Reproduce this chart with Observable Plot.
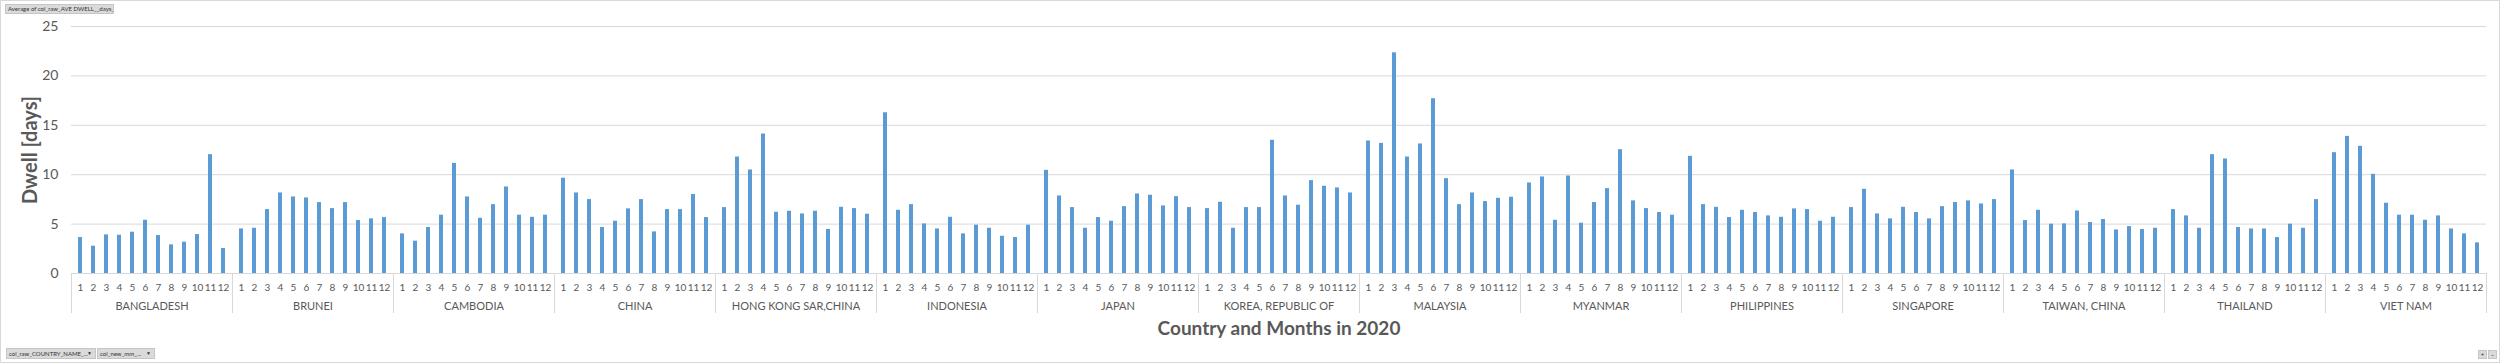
<!DOCTYPE html>
<html>
<head>
<meta charset="utf-8">
<script src="https://cdn.jsdelivr.net/npm/d3@7"></script>
<script src="https://cdn.jsdelivr.net/npm/@observablehq/plot@0.6"></script>
<style>
  html, body { margin: 0; padding: 0; background: #fff; }
  #wrap { position: relative; width: 2500px; height: 363px; font-family: Lato, "Open Sans", sans-serif; }
  #frame { position: absolute; left: 0; top: 0; width: 2498px; height: 361px; border: 1px solid #d9d9d9; pointer-events: none; }
  .btn { position: absolute; background: #dadada; border: 1px solid #c6c6c6; box-sizing: border-box;
         font-family: Lato, sans-serif; font-size: 6px; line-height: 8px; color: #333; white-space: nowrap;
         padding: 0 2px; overflow: hidden; }
  .btn .arr { position: absolute; right: 3px; top: 0; font-size: 5px; }
</style>
</head>
<body>
<div id="wrap">
  <div id="chart"></div>
  <div class="btn" style="left:5px;top:4px;width:109px;height:10px;">Average of col_raw_AVE DWELL__days_</div>
  <div class="btn" style="left:6px;top:348px;width:90px;height:11px;line-height:9px;">col_raw_COUNTRY_NAME_...<span class="arr">▼</span></div>
  <div class="btn" style="left:97px;top:348px;width:58px;height:11px;line-height:9px;">col_new_mm_...<span class="arr">▼</span></div>
  <div class="btn" style="left:2478px;top:350px;width:9px;height:9px;line-height:7px;padding:0;text-align:center;">+</div>
  <div class="btn" style="left:2488px;top:350px;width:9px;height:9px;line-height:7px;padding:0;text-align:center;">−</div>
  <div id="frame"></div>
</div>
<script>
const countries = ["BANGLADESH","BRUNEI","CAMBODIA","CHINA","HONG KONG SAR,CHINA","INDONESIA","JAPAN","KOREA, REPUBLIC OF","MALAYSIA","MYANMAR","PHILIPPINES","SINGAPORE","TAIWAN, CHINA","THAILAND","VIET NAM"];
const months = ["1","2","3","4","5","6","7","8","9","10","11","12"];
const yTicks = [0, 5, 10, 15, 20, 25];
const yTitle = "Dwell [days]";
const xTitle = "Country and Months in 2020";

const bangladesh  = [3.64, 2.76, 3.91, 3.87, 4.18, 5.39, 3.84, 2.90, 3.17, 3.94, 12.03, 2.53];
const brunei      = [4.51, 4.58, 6.47, 8.15, 7.75, 7.65, 7.18, 6.57, 7.18, 5.36, 5.53, 5.66];
const cambodia    = [4.01, 3.27, 4.65, 5.90, 11.15, 7.75, 5.59, 6.97, 8.76, 5.90, 5.69, 5.90];
const china       = [9.64, 8.15, 7.48, 4.65, 5.29, 6.54, 7.48, 4.21, 6.47, 6.47, 7.99, 5.66];
const hongKong    = [6.67, 11.79, 10.48, 14.12, 6.20, 6.30, 6.03, 6.30, 4.46, 6.70, 6.57, 6.00];
const indonesia   = [16.27, 6.40, 6.97, 5.02, 4.51, 5.69, 4.01, 4.89, 4.58, 3.77, 3.64, 4.89];
const japan       = [10.44, 7.85, 6.67, 4.58, 5.66, 5.29, 6.77, 8.05, 7.92, 6.84, 7.78, 6.67];
const korea       = [6.57, 7.21, 4.58, 6.67, 6.67, 13.48, 7.85, 6.91, 9.40, 8.83, 8.66, 8.15];
const malaysia    = [13.41, 13.17, 22.34, 11.79, 13.11, 17.69, 9.60, 6.97, 8.15, 7.28, 7.61, 7.72];
const myanmar     = [9.16, 9.77, 5.39, 9.87, 5.09, 7.18, 8.59, 12.53, 7.35, 6.57, 6.17, 5.90];
const philippines = [11.86, 6.97, 6.70, 5.66, 6.40, 6.17, 5.83, 5.69, 6.54, 6.47, 5.29, 5.69];
const singapore   = [6.67, 8.52, 6.03, 5.53, 6.70, 6.17, 5.53, 6.77, 7.18, 7.35, 7.04, 7.48];
const taiwan      = [10.48, 5.36, 6.40, 4.99, 5.02, 6.33, 5.16, 5.46, 4.41, 4.75, 4.45, 4.58];
const thailand    = [6.47, 5.83, 4.58, 12.03, 11.59, 4.65, 4.51, 4.51, 3.64, 4.99, 4.58, 7.48];
const vietNam     = [12.23, 13.88, 12.87, 10.04, 7.11, 5.90, 5.90, 5.39, 5.83, 4.51, 4.01, 3.10];

const series = [bangladesh, brunei, cambodia, china, hongKong, indonesia, japan, korea, malaysia, myanmar, philippines, singapore, taiwan, thailand, vietNam];
const rows = countries.flatMap((c, i) => series[i].map((v, j) => ({country: c, month: months[j], dwell: v})));

const textColor = "#595959";
const plot = Plot.plot({
  width: 2500,
  height: 363,
  marginLeft: 64,
  marginRight: 8,
  marginTop: 26,
  marginBottom: 90,
  style: {fontFamily: "Lato, 'Open Sans', sans-serif", color: textColor, background: "transparent"},
  fx: {domain: countries, padding: 0, label: null},
  x: {domain: months, paddingInner: 0.7, paddingOuter: 0.35, label: null},
  y: {domain: [0, 25], label: null},
  marks: [
    Plot.gridY(yTicks.slice(1), {stroke: "#d9d9d9", strokeOpacity: 1, strokeWidth: 1}),
    Plot.ruleY([0], {stroke: "#d9d9d9"}),
    Plot.barY(rows, {fx: "country", x: "month", y: "dwell", fill: "#5b9bd5"}),
    Plot.axisY(yTicks, {tickSize: 0, tickPadding: 13, fontSize: 14, label: null, fill: textColor}),
    Plot.axisX({tickSize: 0, tickPadding: 10, fontSize: 10, label: null, fill: textColor}),
    Plot.axisFx({anchor: "bottom", tickSize: 0, tickPadding: 29, fontSize: 11, label: null, fill: textColor}),
    // y title: only in the first (left-most) facet
    Plot.text([yTitle], {fx: () => countries[0], text: d => d, frameAnchor: "left", rotate: -90, dx: -41,
      lineAnchor: "middle", textAnchor: "middle", fontSize: 20, fontWeight: "bold", fill: textColor}),
    // x title: centred under the whole chart (middle facet of 15)
    Plot.text([xTitle], {fx: () => countries[7], text: d => d, frameAnchor: "bottom", dy: 55,
      lineAnchor: "middle", textAnchor: "middle", fontSize: 19, fontWeight: "bold", fill: textColor})
  ]
});

document.getElementById("chart").appendChild(plot);

// category separators below the axis, positioned from Plot's own fx and y scales
const fx = plot.scale("fx");
const ys = plot.scale("y");
const y0 = ys.apply(0);
const edges = countries.map(c => fx.apply(c)).concat([fx.apply(countries[countries.length - 1]) + fx.bandwidth]);
d3.select(plot).append("g")
  .attr("stroke", "#d9d9d9")
  .selectAll("line")
  .data(edges)
  .join("line")
  .attr("x1", d => Math.round(d) + 0.5)
  .attr("x2", d => Math.round(d) + 0.5)
  .attr("y1", y0)
  .attr("y2", y0 + 40);
</script>
</body>
</html>
